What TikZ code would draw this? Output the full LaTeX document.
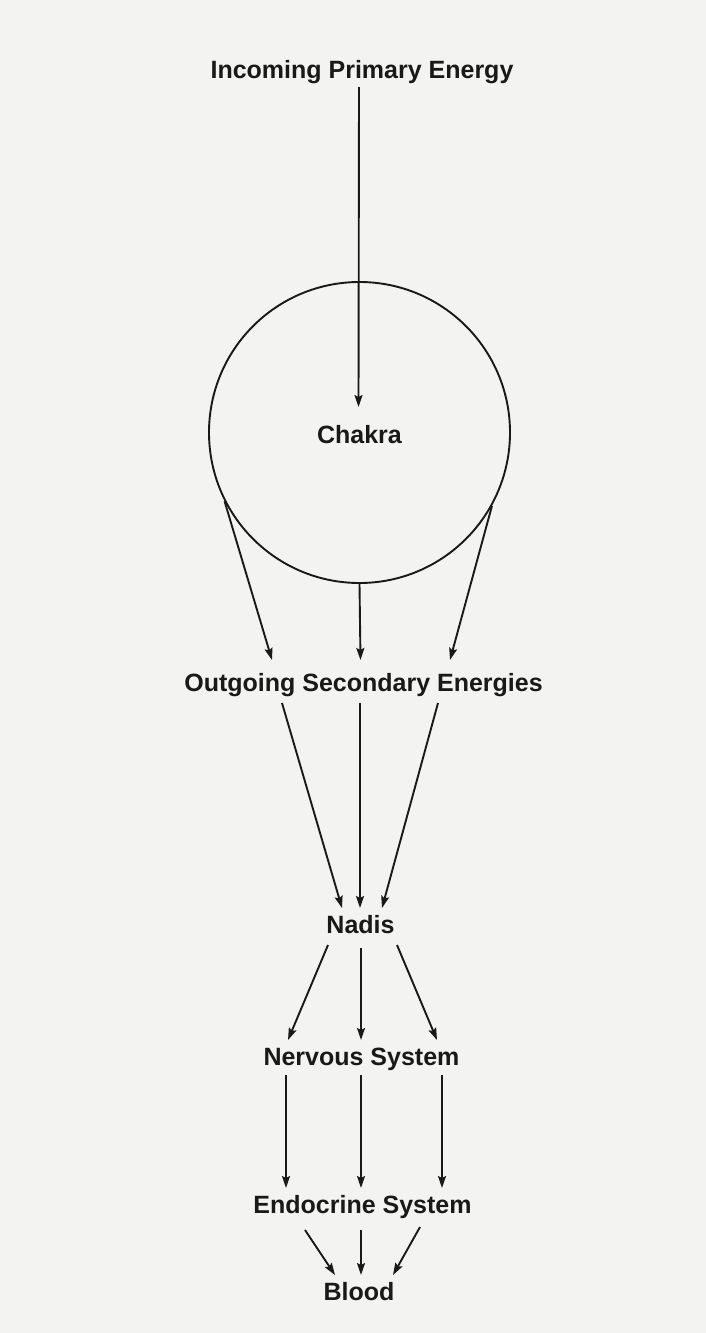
\documentclass[tikz,border=0pt]{standalone}
\usepackage{fontspec}
\setmainfont{Liberation Sans}
\usetikzlibrary{arrows.meta}
\definecolor{paper}{RGB}{243,243,241}
\definecolor{ink}{RGB}{25,25,25}
\tikzset{
  lbl/.style={font=\fontsize{25}{28}\selectfont\bfseries, text=ink, inner sep=0pt,
              text height=18pt, text depth=6pt, outer sep=3pt, anchor=base},
  arr/.style={draw=ink, line width=1.9pt, -{Stealth[length=12pt,width=8pt,inset=2pt]}},
  ring/.style={circle, draw=ink, line width=1.9pt, minimum size=301pt, inner sep=0pt}
}
\begin{document}
\begin{tikzpicture}[x=1pt,y=-1pt]
\fill[paper] (0,0) rectangle (706,1333);
\useasboundingbox (0,0) rectangle (706,1333);

\node[lbl] (title) at (362,78) {Incoming Primary Energy};
\node[ring] (chakra) at (359.5,432.5) {};
\node[lbl] (chakratext) at (359.5,443) {Chakra};
\node[lbl] (out) at (363.5,691) {Outgoing Secondary Energies};
\node[lbl] (nadis) at (360.5,933) {Nadis};
\node[lbl] (nerv) at (361.5,1065) {Nervous System};
\node[lbl] (endo) at (362.5,1213) {Endocrine System};
\node[lbl] (blood) at (359,1300) {Blood};

% incoming -> chakra
\draw[arr] ([xshift=-3pt]title.south) -- ([yshift=15pt,xshift=-1pt]chakratext.north);

% chakra -> outgoing
\draw[arr] (chakra.207) -- ([xshift=-91.5pt,yshift=10pt]out.north);
\draw[arr] (chakra.south) -- ([xshift=-3pt,yshift=10pt]out.north);
\draw[arr] (chakra.331) -- ([xshift=86.5pt,yshift=10pt]out.north);

% outgoing -> nadis
\draw[arr] ([xshift=-81.5pt,yshift=-3pt]out.south) -- ([xshift=-18.5pt,yshift=4pt]nadis.north);
\draw[arr] ([xshift=-3.5pt,yshift=-3pt]out.south) -- ([xshift=-0.5pt,yshift=4pt]nadis.north);
\draw[arr] ([xshift=74.5pt,yshift=-3pt]out.south) -- ([xshift=21.5pt,yshift=4pt]nadis.north);

% nadis -> nervous
\draw[arr] ([xshift=-32.5pt,yshift=-3pt]nadis.south) -- ([xshift=-73.5pt,yshift=4pt]nerv.north);
\draw[arr] ([xshift=0.5pt,yshift=-6pt]nadis.south) -- ([xshift=-0.5pt,yshift=4pt]nerv.north);
\draw[arr] ([xshift=36.5pt,yshift=-3pt]nadis.south) -- ([xshift=75.5pt,yshift=4pt]nerv.north);

% nervous -> endocrine
\draw[arr] ([xshift=-75.5pt,yshift=-1pt]nerv.south) -- ([xshift=-76.5pt,yshift=4pt]endo.north);
\draw[arr] ([xshift=-0.5pt,yshift=-1pt]nerv.south) -- ([xshift=-1.5pt,yshift=4pt]endo.north);
\draw[arr] ([xshift=80.5pt,yshift=-1pt]nerv.south) -- ([xshift=79.5pt,yshift=4pt]endo.north);

% endocrine -> blood
\draw[arr] ([xshift=-57.5pt,yshift=-8pt]endo.south) -- ([xshift=-24pt,yshift=4pt]blood.north);
\draw[arr] ([xshift=-1.5pt,yshift=-8pt]endo.south) -- ([xshift=2pt,yshift=4pt]blood.north);
\draw[arr] ([xshift=57.5pt,yshift=-5pt]endo.south) -- ([xshift=34pt,yshift=4pt]blood.north);
\end{tikzpicture}
\end{document}
